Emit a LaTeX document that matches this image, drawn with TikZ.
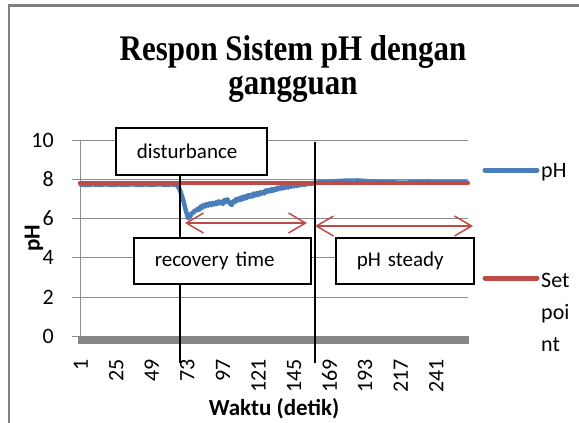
\documentclass[tikz,border=0pt]{standalone}
\usepackage{fontspec}
\setmainfont{Carlito}
\newfontfamily\titlefont{Liberation Serif}
\usetikzlibrary{arrows.meta}
\definecolor{xlblue}{HTML}{4A7EBB}
\definecolor{xlred}{HTML}{BE4B48}
\definecolor{gridgray}{HTML}{8C8C8C}
\definecolor{axisgray}{HTML}{868686}
\definecolor{framegray}{HTML}{7F7F7F}
\begin{document}
\begin{tikzpicture}[x=1pt,y=-1pt,
  txtbox/.style={draw=black, line width=1.5pt, fill=white, anchor=north west,
    align=left, inner xsep=21pt, inner ysep=0pt, font=\fontsize{21}{25}\selectfont},
  ticklbl/.style={font=\fontsize{22}{26}\selectfont, inner sep=0pt},
  legtxt/.style={font=\fontsize{22}{26}\selectfont, inner sep=0pt, anchor=base west},
  gridln/.style={draw=gridgray, line width=1pt},
  marker/.style={draw=black, line width=1.5pt},
  spanarrow/.style={draw=xlred, line width=1.5pt,
    {Straight Barb[length=17pt,width=20pt,line width=1.5pt]}-{Straight Barb[length=17pt,width=20pt,line width=1.5pt]}},
  series/.style={line width=4.5pt, line join=round, line cap=round}]
\useasboundingbox (0,0) rectangle (579,423);
\fill[white] (0,0) rectangle (579,423);
% frame
\draw[framegray, line width=2.5pt] (9,423) -- (9,5.5) -- (579,5.5);
% title
\node[inner sep=0pt, anchor=base] (title1) at (293,60) {\titlefont\bfseries\fontsize{36}{40}\selectfont\scalebox{0.86}[1]{Respon Sistem pH dengan}};
\node[inner sep=0pt, anchor=base] (title2) at (293,94) {\titlefont\bfseries\fontsize{36}{40}\selectfont\scalebox{0.86}[1]{gangguan}};
% grid
\foreach \yy in {297.2,257.9,218.6,179.3,140.0} {\draw[gridln] (80,\yy) -- (468,\yy);}
\foreach \yy in {336.5,297.2,257.9,218.6,179.3,140.0} {\draw[gridln] (72,\yy) -- (80,\yy);}
\draw[gridln] (80,140) -- (80,336.5);
\draw[axisgray, line width=8pt] (78,339.5) -- (469,339.5);
% y tick labels
\foreach \v/\yy in {0/336.5,2/297.2,4/257.9,6/218.6,8/179.3,10/140.0} {\node[ticklbl, anchor=east] (yt\v) at (54,\yy) {\v};}
% x tick labels
\foreach \i in {1,25,49,73,97,121,145,169,193,217,241} {
  \pgfmathsetmacro{\xx}{79.26+1.481*\i}
  \node[ticklbl, rotate=90, anchor=east] (xt\i) at (\xx,359) {\i};}
% axis titles
\node[inner sep=0pt, rotate=90, font=\bfseries\fontsize{23}{26}\selectfont] (ylab) at (34,238) {pH};
\node[inner sep=0pt, anchor=base, font=\bfseries\fontsize{23}{26}\selectfont] (xlab) at (274,415) {Waktu (detik)};
% series
\begin{scope}[shift={(79.26,336.5)}, x=1.481pt, y=19.65pt]
\draw[xlblue, series] plot coordinates {(1,7.73) (5,7.71) (9,7.74) (14,7.72) (18,7.75) (22,7.71) (27,7.74) (31,7.72) (36,7.75) (40,7.71) (45,7.74) (49,7.72) (54,7.75) (58,7.72) (62,7.74) (66,7.72) (68,7.45) (70,7.0) (72,6.4) (73.5,6.02) (75,6.12) (76,6.3) (77,6.28) (78,6.42) (79,6.4) (80,6.5) (81,6.45) (82,6.62) (83,6.55) (84,6.7) (85,6.62) (86,6.74) (87,6.66) (88,6.78) (89,6.68) (90,6.8) (91,6.72) (92,6.82) (93,6.74) (94,6.88) (95,6.78) (96,6.86) (97,6.74) (98,6.95) (99,6.84) (100,6.98) (101,6.86) (102,6.74) (103,6.7) (104,6.88) (105,6.84) (106,7.0) (107,6.92) (108,7.04) (109,6.95) (110,7.1) (111,7.0) (112,7.14) (113,7.04) (114,7.2) (115,7.1) (116,7.22) (117,7.12) (118,7.28) (119,7.18) (120,7.3) (121,7.2) (122,7.34) (123,7.26) (124,7.36) (125,7.28) (126,7.44) (127,7.36) (128,7.46) (129,7.38) (130,7.5) (131,7.42) (132,7.52) (133,7.46) (134,7.58) (135,7.5) (136,7.6) (137,7.53) (138,7.63) (139,7.56) (140,7.66) (141,7.58) (142,7.68) (143,7.62) (144,7.7) (145,7.64) (146,7.72) (147,7.66) (148,7.74) (149,7.68) (150,7.75) (152,7.72) (154,7.77) (156,7.76) (158,7.8) (160,7.83) (165,7.86) (172,7.9) (180,7.93) (188,7.94) (196,7.9) (204,7.86) (212,7.84) (220,7.83) (228,7.86) (236,7.88) (244,7.84) (252,7.85) (262,7.84)};
\draw[xlred, series] (0.5,7.8) -- (262.3,7.8);
\end{scope}
% markers
\node[txtbox, minimum width=151pt, minimum height=47pt, text width=109pt] (dist) at (115,127) {disturbance};
\coordinate (d1) at (180,363);
\coordinate (s1) at (315,142);
\coordinate (s2) at (315,363);
\draw[marker] (dist.south -| d1) -- (d1);
\draw[marker] (s1) -- (s2);
\coordinate (r1) at (185,223);
\coordinate (r2) at (307,223);
\coordinate (q1) at (315,226);
\coordinate (q2) at (473,226);
\draw[spanarrow] (r1) -- (r2);
\draw[spanarrow] (q1) -- (q2);
\node[txtbox, minimum width=177pt, minimum height=46pt, text width=135pt] (rec) at (133,237) {recovery time};
\node[txtbox, minimum width=138pt, minimum height=46pt, text width=96pt] (steady) at (335,237) {pH steady};
% legend
\draw[xlblue, line width=5pt, line cap=round] (485,170) -- (537,170);
\node[legtxt] (legph) at (541,177.5) {pH};
\draw[xlred, line width=5pt, line cap=round] (485,278) -- (537,278);
\node[legtxt] (legset1) at (541,287) {Set};
\node[legtxt] (legset2) at (541,319) {poi};
\node[legtxt] (legset3) at (541,351) {nt};
\end{tikzpicture}
\end{document}
